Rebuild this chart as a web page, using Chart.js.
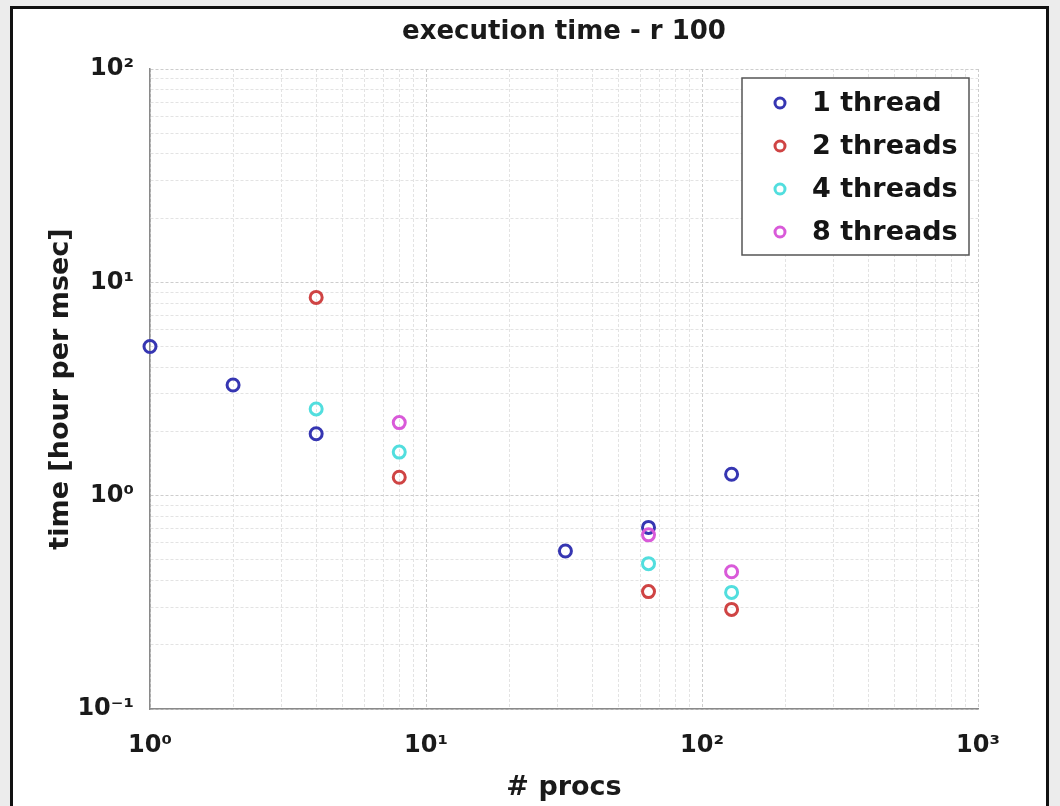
<!DOCTYPE html>
<html>
<head>
<meta charset="utf-8">
<script src="https://cdn.jsdelivr.net/npm/chart.js@4.4.0/dist/chart.umd.min.js"></script>
<style>
  html, body { margin: 0; padding: 0; background: #ececec; overflow: hidden; }
  #frame { position: absolute; left: 10px; top: 6px; width: 1033px; height: 830px; border: 3px solid #111; background: #fff; }
  #wrap { position: absolute; left: 0; top: 0; width: 1060px; height: 806px; }
</style>
</head>
<body>
<div id="frame"></div>
<div id="wrap"><canvas id="timeChart" width="1060" height="806"></canvas></div>
<script>
// execution time vs number of procs, one series per thread count
const procs1 = [1, 2, 4, 32, 64, 128];
const time1 = [5.0, 3.3, 1.95, 0.55, 0.71, 1.26];
const procs2 = [4, 8, 64, 128];
const time2 = [8.5, 1.22, 0.355, 0.293];
const procs4 = [4, 8, 64, 128];
const time4 = [2.55, 1.6, 0.48, 0.352];
const procs8 = [8, 64, 128];
const time8 = [2.2, 0.655, 0.44];

const seriesLabels = ["1 thread", "2 threads", "4 threads", "8 threads"];
const seriesColors = ["#3636b2", "#cf4444", "#52dede", "#d95ad9"];

// decade ticks, minor ticks at 2..9 of each decade
const xDecades = [1, 10, 100, 1000];
const yDecades = [0.1, 1, 10, 100];
const minorSteps = [2, 3, 4, 5, 6, 7, 8, 9];

const FONT = "DejaVu Sans";
const sup = { "-": "\u207B", "0": "\u2070", "1": "\u00B9", "2": "\u00B2", "3": "\u00B3" };

function toPoints(xs, ys) {
  return xs.map((x, i) => ({ x: x, y: ys[i] }));
}

function logTicks(decades) {
  const list = [];
  decades.forEach((d, i) => {
    list.push(d);
    if (i < decades.length - 1) minorSteps.forEach(s => list.push(Math.round(d * s * 1000) / 1000));
  });
  return list.map(v => ({ value: v }));
}

function isDecade(v) {
  const e = Math.round(Math.log10(v));
  return Math.abs(v - Math.pow(10, e)) < 1e-9 * v;
}

function powerLabel(v) {
  if (!isDecade(v)) return "";
  const e = String(Math.round(Math.log10(v)));
  return "10" + e.split("").map(c => sup[c]).join("");
}

function gridColor(ctx) {
  return ctx.tick && isDecade(ctx.tick.value) ? "#cdcdcd" : "#e3e3e3";
}

const boxLegend = {
  id: "boxLegend",
  afterDraw(chart) {
    const ctx = chart.ctx;
    const area = chart.chartArea;
    const x = area.right - 236, y = area.top + 9, w = 227, h = 177;
    ctx.save();
    ctx.fillStyle = "#ffffff";
    ctx.fillRect(x, y, w, h);
    ctx.strokeStyle = "#555";
    ctx.lineWidth = 1.5;
    ctx.strokeRect(x, y, w, h);
    ctx.font = "bold 27px '" + FONT + "'";
    ctx.textBaseline = "middle";
    chart.data.datasets.forEach((ds, i) => {
      const cy = y + 25 + i * 43;
      ctx.beginPath();
      ctx.arc(x + 38, cy, 5, 0, Math.PI * 2);
      ctx.strokeStyle = ds.borderColor;
      ctx.lineWidth = 3;
      ctx.stroke();
      ctx.fillStyle = "#151515";
      ctx.fillText(ds.label, x + 70, cy + 1);
    });
    ctx.restore();
  }
};

const seriesData = [toPoints(procs1, time1), toPoints(procs2, time2), toPoints(procs4, time4), toPoints(procs8, time8)];

new Chart(document.getElementById("timeChart"), {
  type: "scatter",
  data: {
    datasets: seriesData.map((pts, i) => ({
      label: seriesLabels[i],
      data: pts,
      borderColor: seriesColors[i],
      backgroundColor: "rgba(0,0,0,0)",
      pointStyle: "circle",
      pointRadius: 6,
      borderWidth: 3,
      clip: false,
      order: seriesData.length - i
    }))
  },
  options: {
    responsive: false,
    animation: false,
    layout: { padding: { left: 0, right: 82, top: 0, bottom: 0 } },
    plugins: {
      legend: { display: false },
      tooltip: { enabled: false },
      title: {
        display: true,
        fullSize: false,
        text: "execution time - r 100",
        color: "#1a1a1a",
        font: { family: FONT, size: 26, weight: "bold", lineHeight: 1.2 },
        padding: { top: 17, bottom: 20.8 }
      }
    },
    scales: {
      x: {
        type: "logarithmic",
        min: xDecades[0],
        max: xDecades[xDecades.length - 1],
        afterBuildTicks: s => { s.ticks = logTicks(xDecades); },
        afterFit: s => { s.height = 97; },
        ticks: {
          autoSkip: false,
          maxRotation: 0,
          padding: 22,
          color: "#1a1a1a",
          font: { family: FONT, size: 24, weight: "bold" },
          callback: v => powerLabel(v)
        },
        grid: { color: gridColor, drawTicks: false },
        border: { color: "#8a8a8a", width: 1.5, dash: [3, 2] },
        title: {
          display: true,
          text: "# procs",
          color: "#1a1a1a",
          font: { family: FONT, size: 27, weight: "bold", lineHeight: 1.2 },
          padding: { top: 0, bottom: 2 }
        }
      },
      y: {
        type: "logarithmic",
        min: yDecades[0],
        max: yDecades[yDecades.length - 1],
        afterBuildTicks: s => { s.ticks = logTicks(yDecades); },
        afterFit: s => { s.width = 150; },
        ticks: {
          autoSkip: false,
          padding: 16,
          color: "#1a1a1a",
          font: { family: FONT, size: 24, weight: "bold" },
          callback: v => powerLabel(v)
        },
        grid: { color: gridColor, drawTicks: false },
        border: { color: "#8a8a8a", width: 1.5, dash: [3, 2] },
        title: {
          display: true,
          text: "time [hour per msec]",
          color: "#1a1a1a",
          font: { family: FONT, size: 27, weight: "bold", lineHeight: 1.2 },
          padding: { top: 45, bottom: 0 }
        }
      }
    }
  },
  plugins: [boxLegend]
});
</script>
</body>
</html>
